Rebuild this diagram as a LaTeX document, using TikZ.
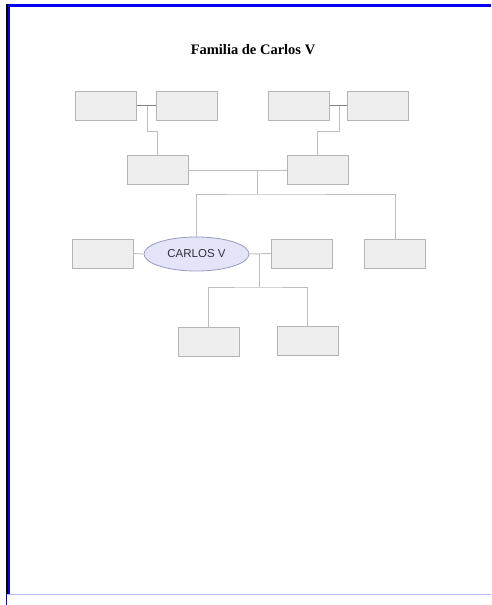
\documentclass[tikz,border=0pt]{standalone}
\usepackage{fontspec}
\setmainfont{Liberation Serif}
\setsansfont{Liberation Sans}
\usetikzlibrary{shapes.geometric}
\definecolor{boxfill}{HTML}{EEEEEE}
\definecolor{boxline}{HTML}{B4B4B4}
\definecolor{ellfill}{HTML}{E4E4F8}
\definecolor{ellline}{HTML}{9A9AC0}
\definecolor{darkln}{HTML}{808080}
\definecolor{lightln}{HTML}{BDBDBD}
\definecolor{frameblue}{HTML}{0000EE}
\definecolor{paleblue}{HTML}{B8B8FF}
\definecolor{txt}{HTML}{303040}
\tikzset{
  pbox/.style={draw=boxline, fill=boxfill, line width=0.9pt, minimum width=61pt, minimum height=29pt, inner sep=0pt},
  pell/.style={ellipse, draw=ellline, fill=ellfill, line width=0.8pt, minimum width=105pt, minimum height=34pt, inner sep=0pt, text=txt, font=\sffamily\fontsize{11.5}{13}\selectfont},
  spouse/.style={draw=darkln, line width=0.8pt},
  desc/.style={draw=lightln, line width=0.9pt},
}
\begin{document}
\begin{tikzpicture}[x=1pt,y=-1pt]
\useasboundingbox (0,0) rectangle (491,605);
\fill[white] (0,0) rectangle (491,605);
% frame
\fill[frameblue] (7,4) rectangle (491,6.5);
\fill[black] (5.5,4) rectangle (7.5,594);
\fill[frameblue] (7.5,4) rectangle (10,594);
\fill[paleblue] (5.5,593.5) rectangle (491,595);
\fill[frameblue] (5.5,594) rectangle (6.5,605);
% title
\node (title) at (253,50) {\fontsize{14.5}{16}\selectfont\bfseries Familia de Carlos V};
% boxes
\node[pbox] (a) at (106,105.5) {};
\node[pbox] (b) at (187,105.5) {};
\node[pbox] (c) at (299,105.5) {};
\node[pbox] (d) at (378,105.5) {};
\node[pbox] (e) at (157.5,170) {};
\node[pbox] (f) at (317.5,170) {};
\node[pbox] (g) at (102.5,253.5) {};
\node[pell] (carlos) at (196.5,254) {CARLOS V};
\node[pbox] (h) at (302,253.5) {};
\node[pbox] (i) at (395,253.5) {};
\node[pbox] (j) at (208.5,342) {};
\node[pbox] (k) at (307.5,340.5) {};
% junctions
\coordinate (ab) at (147,105.5);
\coordinate (cd) at (339,105.5);
\coordinate (ef) at (257,170);
\coordinate (ch) at (259,254);
% spouse links
\draw[spouse] (a.east) -- (b.west);
\draw[spouse] (c.east) -- (d.west);
\draw[desc] (e.east) -- (f.west);
\draw[desc] (g.east) -- (carlos.west);
\draw[desc] (carlos.east) -- (h.west);
% descent links
\draw[desc] (ab) -- ++(0,25.5) -| (e.north);
\draw[desc] (cd) -- ++(0,25.5) -| (f.north);
\draw[desc] (ef) -- ++(0,24) coordinate (efd);
\draw[desc] (carlos.north) |- (efd) -| (i.north);
\draw[desc] (ch) -- ++(0,33) coordinate (chd);
\draw[desc] (j.north) |- (chd) -| (k.north);
\end{tikzpicture}
\end{document}
